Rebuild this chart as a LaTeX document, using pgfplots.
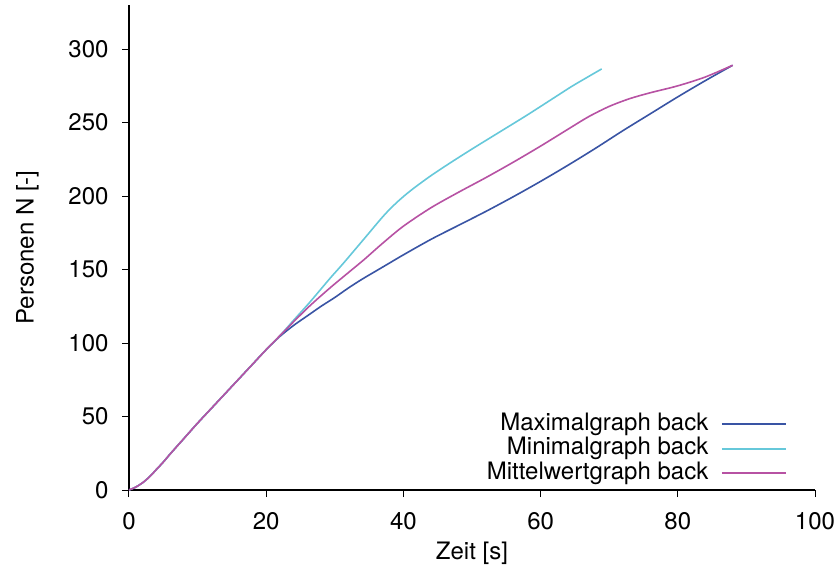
\documentclass[border=0pt]{standalone}
\usepackage{fontspec}
\setmainfont{TeX Gyre Heros}
\usepackage{pgfplots}
\pgfplotsset{compat=1.18}
\definecolor{cmax}{RGB}{57,84,164}
\definecolor{cmin}{RGB}{102,200,218}
\definecolor{cmit}{RGB}{183,82,163}
\begin{document}
\begin{tikzpicture}
\begin{axis}[
  scale only axis, width=686pt, height=485pt,
  xmin=0, xmax=100, ymin=0, ymax=330,
  axis x line*=bottom, axis y line*=left,
  axis line style={line width=1.2pt, -},
  tick align=outside, major tick length=7pt,
  tick style={line width=1pt, black},
  xtick={0,20,...,100}, ytick={0,50,...,300},
  font=\fontsize{24}{28}\selectfont,
  /pgf/number format/assume math mode=true,
  xticklabel style={yshift=-12pt},
  yticklabel style={xshift=-10pt},
  xlabel={Zeit [s]}, ylabel={Personen N [-]},
  x label style={at={(axis description cs:0.5,-0.131)}, anchor=center},
  y label style={at={(axis description cs:-0.148,0.5)}, anchor=center},
  legend cell align=right,
  legend plot pos=right,
  legend image code/.code={\draw[#1, line width=1.8pt] (0pt,0pt) -- (64pt,0pt);},
  legend style={draw=none, fill=none, inner sep=0pt,
    at={(rel axis cs:0.959,0.161)}, anchor=north east,
    font=\fontsize{24}{28}\selectfont,
    /tikz/every odd column/.append style={column sep=11pt},
    nodes={text height=16.5pt, text depth=5pt, inner sep=1.5pt}},
  every axis plot/.append style={line width=1.6pt},
]
\addplot[cmax, smooth, tension=0.5] coordinates {
(0,0)(1,2)(2,5)(3,9)(4,14)(5,19)(6,24.5)(8,35)(10,45.5)(12,55.5)(14,65.5)(16,75.5)(18,85.5)(20,95.5)(22,104.5)
(24,112)(26,118.5)(28,125)(30,131)(32,137.5)(34,143.5)(36,149)(38,154.5)(40,160)(44,170.5)(48,180)(52,189.5)(56,199.5)(60,210)(64,221)(68,232.5)(72,244.5)(76,256)(80,267.5)(84,278.5)(88,289)};
\addlegendentry{Maximalgraph back}
\addplot[cmin, smooth, tension=0.5] coordinates {
(0,0)(1,2)(2,5)(3,9)(4,14)(5,19)(6,24.5)(8,35)(10,45.5)(12,55.5)(14,65.5)(16,75.5)(18,85.5)(20,95.5)(22,105)
(24,115.5)(26.4,128)(29.3,144)(31.2,154)(34.2,170.5)(37.1,186.5)(39,195.5)(41,203.5)(43.9,213.5)(46.8,222.5)(50,232)(54,243.5)(58,255)(62,267)(64.5,274.5)(66.5,280)(68.9,286.5)};
\addlegendentry{Minimalgraph back}
\addplot[cmit, smooth, tension=0.5] coordinates {
(0,0)(1,2)(2,5)(3,9)(4,14)(5,19)(6,24.5)(8,35)(10,45.5)(12,55.5)(14,65.5)(16,75.5)(18,85.5)(20,95.5)(22,105)
(24,114.5)(26.4,125.5)(29.3,137.5)(32,148)(34.2,156.5)(37,168)(40,179.5)(44,192)(48,202.5)(52,212.5)(56,223)(60,234)(64,245.5)(67,254)(70,261)(73,266.3)(76,270.3)(80,275)(84,281)(88,289)};
\addlegendentry{Mittelwertgraph back}
\end{axis}
\path[use as bounding box] ([xshift=-129pt,yshift=-81pt]current axis.south west) rectangle ([xshift=711pt,yshift=490pt]current axis.south west);
\end{tikzpicture}
\end{document}
